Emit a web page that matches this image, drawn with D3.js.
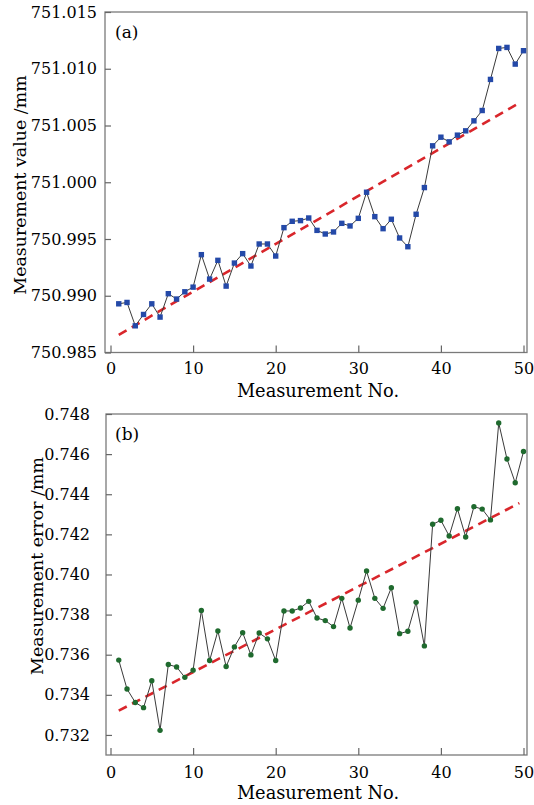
<!DOCTYPE html>
<html>
<head>
<meta charset="utf-8">
<script src="https://cdn.jsdelivr.net/npm/d3@7"></script>
<style>
  html, body { margin: 0; padding: 0; background: #fff; }
  svg { display: block; }
  text { font-family: "DejaVu Serif", "Liberation Serif", serif; fill: #000; }
</style>
</head>
<body>
<svg id="chart" width="534" height="805"></svg>
<script>
// ---- data ----
const measurementNo = d3.range(1, 51);
const measuredValue = [
  750.98929, 750.98941, 750.98735, 750.98835, 750.98929, 750.98812, 750.99018, 750.98971, 750.99035, 750.99076,
  750.99362, 750.99147, 750.99312, 750.99085, 750.99288, 750.99371, 750.99262, 750.99456, 750.99456, 750.99350,
  750.99600, 750.99656, 750.99662, 750.99685, 750.99576, 750.99544, 750.99562, 750.99638, 750.99615, 750.99682,
  750.99912, 750.99697, 750.99591, 750.99674, 750.99509, 750.99432, 750.99718, 750.99953, 751.00321, 751.00397,
  751.00356, 751.00415, 751.00453, 751.00541, 751.00632, 751.00906, 751.01179, 751.01188, 751.01041, 751.01159
];
const measurementError = [
  0.73573, 0.73429, 0.73362, 0.73336, 0.73470, 0.73223, 0.73551, 0.73539, 0.73487, 0.73523,
  0.73821, 0.73571, 0.73718, 0.73541, 0.73639, 0.73710, 0.73599, 0.73708, 0.73679, 0.73571,
  0.73818, 0.73818, 0.73833, 0.73866, 0.73783, 0.73770, 0.73740, 0.73881, 0.73733, 0.73872,
  0.74017, 0.73881, 0.73831, 0.73934, 0.73705, 0.73717, 0.73861, 0.73644, 0.74250, 0.74270,
  0.74192, 0.74328, 0.74187, 0.74338, 0.74326, 0.74272, 0.74755, 0.74576, 0.74457, 0.74613
];
const trendX = [1, 49.5];
const trendValue = [750.98656, 751.00700];
const trendError = [0.73321, 0.74356];
const xTicks = [0, 10, 20, 30, 40, 50];
const yTicksA = [750.985, 750.990, 750.995, 751.000, 751.005, 751.010, 751.015];
const yTicksB = [0.732, 0.734, 0.736, 0.738, 0.740, 0.742, 0.744, 0.746, 0.748];

const TICK_FS = 16;
const svg = d3.select("#chart");

function panel(cfg) {
  const g = svg.append("g");
  const x = d3.scaleLinear().domain([0, 50]).range([110.5, 523.5]);
  const y = d3.scaleLinear().domain(cfg.yDomain).range([cfg.bottom, cfg.top]);

  // frame
  g.append("rect")
    .attr("x", cfg.left).attr("y", cfg.top)
    .attr("width", cfg.right - cfg.left).attr("height", cfg.bottom - cfg.top)
    .attr("fill", "none").attr("stroke", "#7a7a7a").attr("stroke-width", 1.3);

  // axes
  const xa = g.append("g").attr("transform", `translate(0,${cfg.bottom})`)
    .call(d3.axisBottom(x).tickValues(xTicks).tickFormat(d3.format("d")).tickSize(-7).tickPadding(cfg.xPad));
  const ya = g.append("g").attr("transform", `translate(${cfg.left},0)`)
    .call(d3.axisLeft(y).tickValues(cfg.yTicks).tickFormat(d3.format(cfg.yFmt)).tickSize(-6).tickPadding(cfg.yPad));
  [xa, ya].forEach(a => {
    a.select(".domain").remove();
    a.selectAll(".tick line").attr("stroke", "#666").attr("stroke-width", 1.2);
    a.selectAll(".tick text").attr("font-size", TICK_FS).attr("fill", "#000")
      .style("font-family", '"DejaVu Serif", serif');
  });

  // axis titles
  g.append("text").attr("x", 318).attr("y", cfg.bottom + 44)
    .attr("text-anchor", "middle").attr("font-size", 17.8).text("Measurement No.");
  g.append("text")
    .attr("transform", `translate(${cfg.yLabelX},${cfg.yLabelY}) rotate(-90)`)
    .attr("text-anchor", "middle").attr("font-size", 17.4).text(cfg.yLabel);

  // panel label
  g.append("text").attr("x", 115).attr("y", cfg.top + 26).attr("font-size", 17).text(cfg.tag);

  // trend line
  g.append("path")
    .datum(trendX.map((t, i) => [t, cfg.trend[i]]))
    .attr("d", d3.line().x(d => x(d[0])).y(d => y(d[1])))
    .attr("fill", "none").attr("stroke", "#d9262b").attr("stroke-width", 2.6)
    .attr("stroke-dasharray", "9,6");

  // data line
  const pts = measurementNo.map((n, i) => [n, cfg.values[i]]);
  g.append("path").datum(pts)
    .attr("d", d3.line().x(d => x(d[0])).y(d => y(d[1])))
    .attr("fill", "none").attr("stroke", "#3a3a3a").attr("stroke-width", 1);

  // markers
  if (cfg.marker === "square") {
    g.selectAll("rect.pt").data(pts).enter().append("rect").attr("class", "pt")
      .attr("x", d => x(d[0]) - 2.7).attr("y", d => y(d[1]) - 2.7)
      .attr("width", 5.4).attr("height", 5.4).attr("fill", "#2449a8");
  } else {
    g.selectAll("circle.pt").data(pts).enter().append("circle").attr("class", "pt")
      .attr("cx", d => x(d[0])).attr("cy", d => y(d[1])).attr("r", 2.7)
      .attr("fill", "#1f6a2e");
  }
}

panel({
  top: 12, bottom: 352.5, left: 105, right: 527,
  yDomain: [750.985, 751.015], yTicks: yTicksA, yFmt: ".3f", yPad: 8, xPad: 10.6,
  yLabel: "Measurement value /mm", yLabelX: 26, yLabelY: 185,
  values: measuredValue, trend: trendValue, marker: "square", tag: "(a)"
});

panel({
  top: 414, bottom: 755, left: 106, right: 527,
  yDomain: [0.731, 0.748], yTicks: yTicksB, yFmt: ".3f", yPad: 16, xPad: 11.6,
  yLabel: "Measurement error /mm", yLabelX: 43, yLabelY: 566,
  values: measurementError, trend: trendError, marker: "circle", tag: "(b)"
});
</script>
</body>
</html>
